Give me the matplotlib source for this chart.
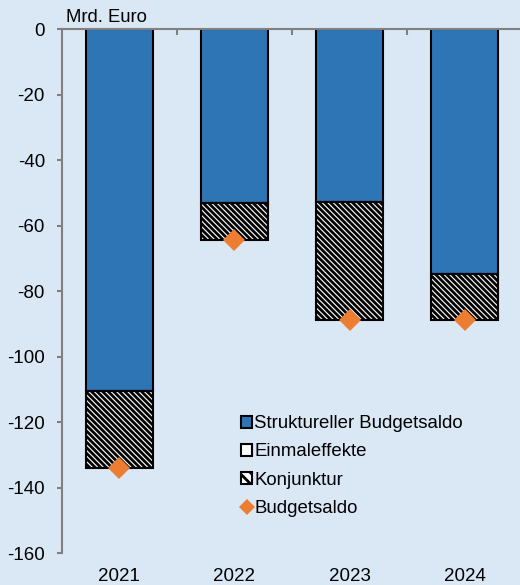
from matplotlib import pyplot as plt
from matplotlib.patches import Patch
from matplotlib.lines import Line2D
import numpy as np

plt.rcParams['font.family'] = ['Liberation Sans', 'DejaVu Sans']
plt.rcParams['hatch.linewidth'] = 2.0
plt.rcParams['axes.unicode_minus'] = False

years = ['2021', '2022', '2023', '2024']
struktur = [-110.5, -53.1, -52.8, -74.9]
einmal = [0.0, 0.0, 0.0, 0.0]
konjunktur = [-23.5, -11.3, -36.1, -14.0]
budgetsaldo = [-134.0, -64.4, -88.9, -88.9]

bg = '#DAE8F5'
blue = '#2E75B6'
orange = '#ED7D31'
grey = '#808080'

fig = plt.figure(figsize=(5.2, 5.85), dpi=100, facecolor=bg)
ax = fig.add_axes([0.119, 0.0547, 0.885, 0.8957])
ax.set_facecolor(bg)

x = np.arange(len(years))
w = 0.58
struktur = np.array(struktur)
einmal = np.array(einmal)
konjunktur = np.array(konjunktur)

ax.bar(x, struktur, w, color=blue, edgecolor='black', linewidth=1.5, zorder=2)
ax.bar(x, einmal, w, bottom=struktur, color='white', edgecolor='black', linewidth=1.5, zorder=2)
ax.bar(x, konjunktur, w, bottom=struktur + einmal, color='white', edgecolor='black',
       hatch='\\' * 6, linewidth=1.5, zorder=2)
ax.plot(x, budgetsaldo, 'D', color=orange, markersize=11, markeredgewidth=0, zorder=3)

ax.set_xlim(-0.5, 3.5)
ax.set_ylim(-160, 0)
ax.set_yticks(np.arange(-160, 1, 20))
ax.set_xticks(x)
ax.set_xticklabels(years)
ax.set_xticks([0.5, 1.5, 2.5], minor=True)

for s in ['right', 'bottom']:
    ax.spines[s].set_visible(False)
for s in ['left', 'top']:
    ax.spines[s].set_color(grey)
    ax.spines[s].set_linewidth(1.5)

ax.tick_params(axis='y', direction='out', length=3.6, width=1.5, color=grey,
               labelsize=13.5, pad=8.6)
ax.tick_params(axis='x', which='major', length=0, labelsize=13.5, pad=11)
ax.tick_params(axis='x', which='minor', top=True, bottom=False, direction='in',
               length=4, width=1.5, color=grey)

ax.text(0.01, 1.005, 'Mrd. Euro', transform=ax.transAxes, fontsize=13.3,
        ha='left', va='bottom')

handles = [
    Patch(facecolor=blue, edgecolor='black', linewidth=1.5),
    Patch(facecolor='white', edgecolor='black', linewidth=1.5),
    Patch(facecolor='white', edgecolor='black', linewidth=1.5, hatch='\\' * 3),
    Line2D([], [], marker='D', color=orange, linestyle='none', markersize=8,
           markeredgewidth=0),
]
labels = ['Struktureller Budgetsaldo', 'Einmaleffekte', 'Konjunktur', 'Budgetsaldo']
ax.legend(handles, labels, loc='lower left', bbox_to_anchor=(0.373, 0.055),
          frameon=False, fontsize=13.4, handlelength=0.6, handleheight=0.6,
          handletextpad=0.1, labelspacing=0.6, borderaxespad=0)

plt.savefig('out.png', dpi=100, facecolor=bg)
